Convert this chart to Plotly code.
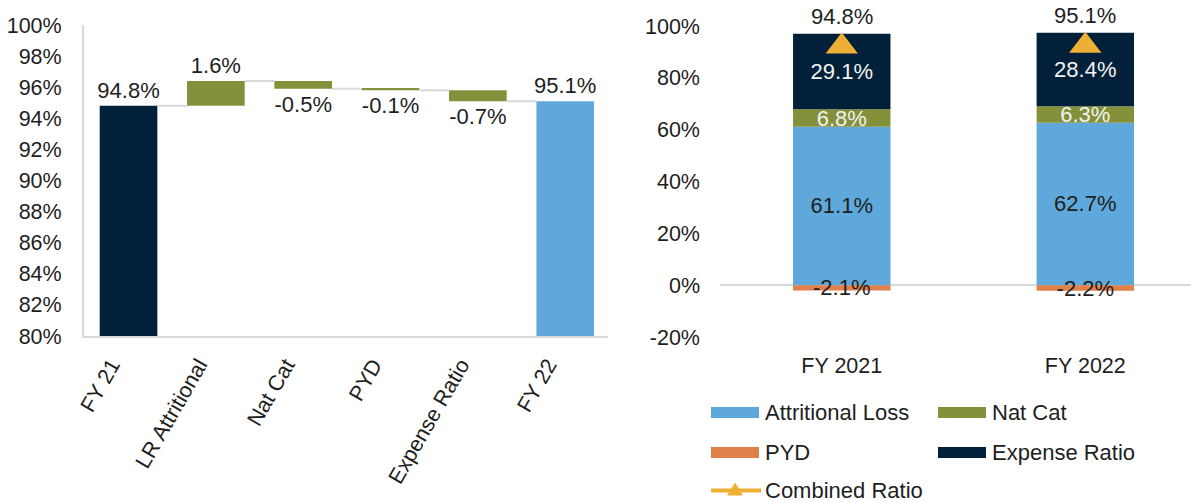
import plotly.graph_objects as go

# ---- Left panel: combined ratio walk FY21 -> FY22 ----
walk_steps = ["FY 21", "LR Attritional", "Nat Cat", "PYD", "Expense Ratio", "FY 22"]
walk_values = [94.8, 1.6, -0.5, -0.1, -0.7, 95.1]
walk_kinds = ["total", "delta", "delta", "delta", "delta", "total"]
walk_colors = ["#03203A", "#84913A", "#84913A", "#84913A", "#84913A", "#5FA8DB"]
walk_ticks = list(range(80, 101, 2))

# ---- Right panel: combined ratio components ----
years = ["FY 2021", "FY 2022"]
attritional_loss = [61.1, 62.7]
nat_cat = [6.8, 6.3]
pyd = [-2.1, -2.2]
expense_ratio = [29.1, 28.4]
combined_ratio = [94.8, 95.1]
component_ticks = list(range(-20, 101, 20))

C_BLUE = "#5FA8DB"
C_OLIVE = "#84913A"
C_ORANGE = "#E0804A"
C_NAVY = "#03203A"
C_GOLD = "#EEB034"
C_GRID = "#D9D9D9"
C_TEXT = "#1E1E1E"
FONT = "Liberation Sans, Arial, sans-serif"
FS = 22
FS_TICK = 21.5

W, H = 1191, 503


def px_x(p):
    return p / W


def px_y(p):
    return 1 - p / H


def pct(v):
    return f"{v:.1f}%"


fig = go.Figure()

# floating bars for the walk
bases, heights, run = [], [], 0.0
for v, k in zip(walk_values, walk_kinds):
    if k == "total":
        bases.append(0.0)
        heights.append(v)
        run = v
    else:
        bases.append(run)
        heights.append(v)
        run = run + v

WALK_W = 0.66
fig.add_trace(go.Bar(
    x=walk_steps, y=heights, base=bases,
    marker=dict(color=walk_colors, line=dict(width=0)),
    width=WALK_W,
    text=[pct(v) for v in walk_values],
    textposition="outside", textangle=0, constraintext="none",
    textfont=dict(family=FONT, size=FS, color=C_TEXT),
    cliponaxis=False, showlegend=False, hoverinfo="skip",
    xaxis="x", yaxis="y",
))

# connectors between consecutive bars
levels = [b + h for b, h in zip(bases, heights)]
for i in range(len(walk_steps) - 1):
    fig.add_shape(type="line", xref="x", yref="y",
                  x0=i + WALK_W / 2, x1=i + 1 - WALK_W / 2,
                  y0=levels[i], y1=levels[i],
                  line=dict(color=C_GRID, width=2))

# stacked components
stack = [
    ("Attritional Loss", attritional_loss, C_BLUE, C_TEXT),
    ("PYD", pyd, C_ORANGE, C_TEXT),
    ("Nat Cat", nat_cat, C_OLIVE, "#F2F2F2"),
    ("Expense Ratio", expense_ratio, C_NAVY, "#F2F2F2"),
]
for name, vals, col, tcol in stack:
    fig.add_trace(go.Bar(
        x=years, y=vals, name=name,
        marker=dict(color=col, line=dict(width=0)),
        width=0.4,
        text=[pct(v) for v in vals],
        textposition="inside", insidetextanchor="middle", textangle=0,
        constraintext="none",
        textfont=dict(family=FONT, size=FS, color=tcol),
        cliponaxis=False, showlegend=False, hoverinfo="skip",
        xaxis="x2", yaxis="y2",
    ))

fig.add_trace(go.Scatter(
    x=years, y=combined_ratio, name="Combined Ratio",
    mode="markers",
    marker=dict(symbol="triangle-up", size=28, color=C_GOLD, standoff=7),
    cliponaxis=False, showlegend=False, hoverinfo="skip",
    xaxis="x2", yaxis="y2",
))
for yr, v in zip(years, combined_ratio):
    fig.add_annotation(xref="x2", yref="y2", x=yr, y=v, text=pct(v),
                       showarrow=False, yanchor="middle", yshift=23,
                       font=dict(family=FONT, size=FS, color=C_TEXT))

# legend drawn below the right panel
legend_rows = [
    ("Attritional Loss", C_BLUE, 711, 412.5),
    ("Nat Cat", C_OLIVE, 938, 412.5),
    ("PYD", C_ORANGE, 711, 452.5),
    ("Expense Ratio", C_NAVY, 938, 452.5),
]
for label, col, lx, ly in legend_rows:
    fig.add_shape(type="rect", xref="paper", yref="paper",
                  x0=px_x(lx), x1=px_x(lx + 48),
                  y0=px_y(ly + 5.5), y1=px_y(ly - 5.5),
                  fillcolor=col, line=dict(width=0))
    fig.add_annotation(xref="paper", yref="paper", x=px_x(lx + 52), y=px_y(ly),
                       text=label, showarrow=False, xanchor="left", yanchor="middle",
                       font=dict(family=FONT, size=FS, color=C_TEXT))

ROW3 = 490.5
fig.add_shape(type="line", xref="paper", yref="paper",
              x0=px_x(711), x1=px_x(761), y0=px_y(ROW3), y1=px_y(ROW3),
              line=dict(color=C_GOLD, width=4))
fig.add_shape(type="path", xref="paper", yref="paper",
              path=f"M {px_x(727)},{px_y(ROW3 + 5)} L {px_x(743)},{px_y(ROW3 + 5)} L {px_x(735)},{px_y(ROW3 - 8)} Z",
              fillcolor=C_GOLD, line=dict(width=0))
fig.add_annotation(xref="paper", yref="paper", x=px_x(763), y=px_y(ROW3),
                   text="Combined Ratio", showarrow=False, xanchor="left", yanchor="middle",
                   font=dict(family=FONT, size=FS, color=C_TEXT))

tick_font = dict(family=FONT, size=FS_TICK, color=C_TEXT)

fig.update_layout(
    width=W, height=H,
    margin=dict(l=0, r=0, t=0, b=0, autoexpand=False),
    paper_bgcolor="white", plot_bgcolor="white",
    barmode="relative",
    showlegend=False,
    font=dict(family=FONT, size=FS, color=C_TEXT),
    xaxis=dict(
        domain=[px_x(84), px_x(608)],
        range=[-0.51, 5.49],
        type="category", automargin=False,
        showline=True, linecolor=C_GRID, linewidth=2,
        showgrid=False, zeroline=False,
        tickangle=-60, tickfont=tick_font,
        ticks="", ticklabelstandoff=6, ticklabelshift=-17,
        anchor="y",
    ),
    yaxis=dict(
        domain=[px_y(336), px_y(25)],
        range=[80, 100], automargin=False,
        tickmode="array",
        tickvals=walk_ticks,
        ticktext=[f"{t}%" for t in walk_ticks],
        showline=True, linecolor=C_GRID, linewidth=2,
        showgrid=False, zeroline=False,
        tickfont=tick_font, ticklabelstandoff=16,
        anchor="x",
    ),
    xaxis2=dict(
        domain=[px_x(720), 1.0],
        range=[-0.5, 1.434],
        type="category", automargin=False,
        showline=False, showgrid=False, zeroline=False,
        tickfont=tick_font, ticks="", ticklabelstandoff=13,
        anchor="y2",
    ),
    yaxis2=dict(
        domain=[px_y(337), px_y(26)],
        range=[-20, 100], automargin=False,
        tickmode="array",
        tickvals=component_ticks,
        ticktext=[f"{t}%" for t in component_ticks],
        showline=False, showgrid=False,
        zeroline=True, zerolinecolor=C_GRID, zerolinewidth=2,
        tickfont=tick_font, ticklabelstandoff=19,
        anchor="x2",
    ),
)

fig.write_html("out.html")
